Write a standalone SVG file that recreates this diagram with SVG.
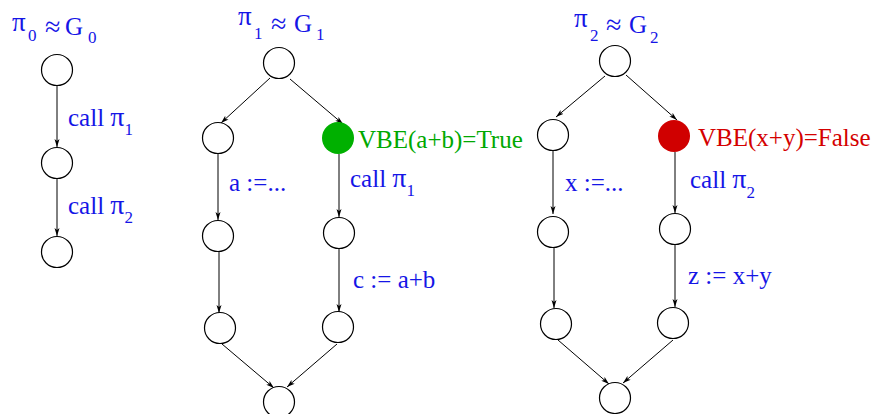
<svg xmlns="http://www.w3.org/2000/svg" width="872" height="414" viewBox="0 0 872 414">
<defs>
<marker id="ah" markerUnits="userSpaceOnUse" markerWidth="9" markerHeight="6" refX="8" refY="3" orient="auto">
<path d="M0,0.5 L8,3 L0,5.5 L2,3 z" fill="#000"/>
</marker>
<style>
.n{fill:#fff;stroke:#000;stroke-width:1.2}
.e{stroke:#000;stroke-width:1;fill:none;marker-end:url(#ah)}
text{font-family:"Liberation Serif","Times New Roman",serif;font-size:25px}
.b{fill:#1515e6}
.g{fill:#00a800}
.r{fill:#d40000}
.s{font-size:17px}
.ap{font-size:28px}
.p{font-size:28px}
.tp{font-size:27px}
</style>
</defs>
<rect width="872" height="414" fill="#fff"/>
<g id="titles">
<text class="b"><tspan class="tp" x="12" y="31">π</tspan><tspan class="s" x="28" y="41">0</tspan><tspan class="ap" x="45" y="36">≈</tspan><tspan x="65" y="35">G</tspan><tspan class="s" x="88" y="43">0</tspan></text>
<text class="b"><tspan class="tp" x="238" y="25">π</tspan><tspan class="s" x="254" y="39">1</tspan><tspan class="ap" x="271" y="33">≈</tspan><tspan x="294" y="32">G</tspan><tspan class="s" x="316" y="40">1</tspan></text>
<text class="b"><tspan class="tp" x="574" y="27">π</tspan><tspan class="s" x="590" y="41">2</tspan><tspan class="ap" x="606" y="34">≈</tspan><tspan x="629" y="33">G</tspan><tspan class="s" x="650" y="43">2</tspan></text>
</g>
<g id="connectors">
<line class="e" x1="57" y1="86" x2="57" y2="147"/>
<line class="e" x1="57" y1="179" x2="57" y2="236"/>
<line class="e" x1="270" y1="78" x2="221" y2="123"/>
<line class="e" x1="290" y1="79" x2="343" y2="124"/>
<line class="e" x1="218" y1="154" x2="218" y2="220"/>
<line class="e" x1="219" y1="252" x2="219" y2="313"/>
<line class="e" x1="339" y1="154" x2="339" y2="217"/>
<line class="e" x1="339" y1="249" x2="339" y2="312"/>
<line class="e" x1="222" y1="344" x2="274" y2="388"/>
<line class="e" x1="337" y1="344" x2="287" y2="387"/>
<line class="e" x1="605" y1="76" x2="556" y2="117"/>
<line class="e" x1="626" y1="75" x2="677" y2="120"/>
<line class="e" x1="553" y1="151" x2="553" y2="214"/>
<line class="e" x1="554" y1="248" x2="554" y2="308"/>
<line class="e" x1="675" y1="152" x2="675" y2="213"/>
<line class="e" x1="675" y1="245" x2="675" y2="307"/>
<line class="e" x1="558" y1="340" x2="609" y2="384"/>
<line class="e" x1="673" y1="340" x2="623" y2="383"/>
</g>
<g id="g0">
<circle id="n0a" class="n" cx="57" cy="70" r="15.5"/>
<circle id="n0b" class="n" cx="57" cy="163" r="15.5"/>
<circle id="n0c" class="n" cx="57" cy="252" r="15.5"/>
<text class="b" x="68" y="126">call <tspan class="p">π</tspan><tspan class="s" y="135">1</tspan></text>
<text class="b" x="68" y="214">call <tspan class="p">π</tspan><tspan class="s" y="223">2</tspan></text>
</g>
<g id="g1">
<circle id="n1t" class="n" cx="279" cy="63" r="15.5"/>
<circle id="n1l1" class="n" cx="218" cy="138" r="15.5"/>
<circle id="n1r1" cx="338" cy="138" r="16" fill="#00b000"/>
<circle id="n1l2" class="n" cx="218" cy="236" r="15.5"/>
<circle id="n1r2" class="n" cx="339" cy="233" r="15.5"/>
<circle id="n1l3" class="n" cx="220" cy="328" r="15.5"/>
<circle id="n1r3" class="n" cx="338" cy="327" r="15.5"/>
<circle id="n1b" class="n" cx="279" cy="402" r="15.5"/>
<text class="g" x="358" y="148">VBE(a+b)=True</text>
<text class="b" x="229" y="191">a :=...</text>
<text class="b" x="350" y="187">call <tspan class="p">π</tspan><tspan class="s" y="196">1</tspan></text>
<text class="b" x="353" y="288">c := a+b</text>
</g>
<g id="g2">
<circle id="n2t" class="n" cx="615" cy="61" r="15.5"/>
<circle id="n2l1" class="n" cx="553" cy="135" r="15.5"/>
<circle id="n2r1" cx="674" cy="136" r="16" fill="#d00000"/>
<circle id="n2l2" class="n" cx="553" cy="232" r="15.5"/>
<circle id="n2r2" class="n" cx="675" cy="229" r="15.5"/>
<circle id="n2l3" class="n" cx="556" cy="324" r="15.5"/>
<circle id="n2r3" class="n" cx="673" cy="323" r="15.5"/>
<circle id="n2b" class="n" cx="615" cy="398" r="15.5"/>
<text class="r" x="698" y="146">VBE(x+y)=False</text>
<text class="b" x="565" y="191">x :=...</text>
<text class="b" x="690" y="188">call <tspan class="p">π</tspan><tspan class="s" y="198">2</tspan></text>
<text class="b" x="688" y="284">z := x+y</text>
</g>
</svg>
